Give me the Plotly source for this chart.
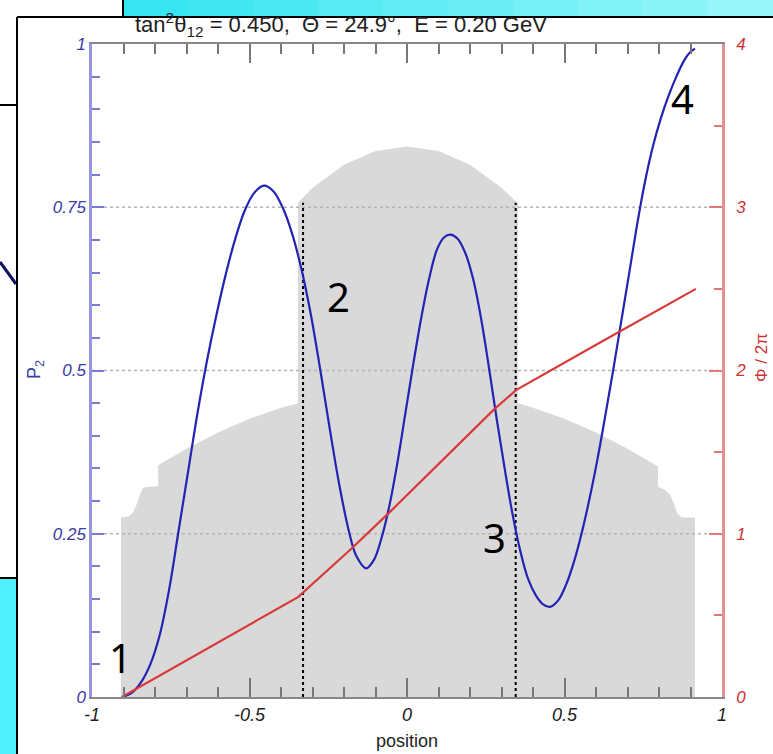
import plotly.graph_objects as go

# ---------------- data ----------------
# density profile (gray silhouette), position vs. scaled height on the P2 axis
gray_x = [-0.908, -0.908, -0.885, -0.870, -0.858, -0.848, -0.838, -0.790, -0.790,
          -0.700, -0.600, -0.500, -0.400, -0.346, -0.346, -0.300, -0.200, -0.100,
          0.000, 0.100, 0.200, 0.300, 0.352, 0.352, 0.400, 0.500, 0.600, 0.700,
          0.797, 0.797, 0.815, 0.835, 0.848, 0.858, 0.872, 0.914, 0.914]
gray_y = [0.000, 0.275, 0.276, 0.282, 0.295, 0.310, 0.321, 0.323, 0.355,
          0.380, 0.405, 0.426, 0.443, 0.450, 0.757, 0.780, 0.815, 0.836,
          0.843, 0.836, 0.815, 0.780, 0.756, 0.450, 0.443, 0.426, 0.405, 0.380,
          0.353, 0.322, 0.318, 0.310, 0.295, 0.281, 0.275, 0.275, 0.000]

# P2 (blue, left axis)
p2_x = [-0.905, -0.875, -0.845, -0.815, -0.785, -0.755, -0.725, -0.695, -0.665,
        -0.635, -0.605, -0.575, -0.545, -0.515, -0.485, -0.454,
        -0.425, -0.395, -0.365, -0.335, -0.305, -0.275, -0.245, -0.215, -0.185,
        -0.160, -0.130,
        -0.105, -0.080, -0.055, -0.030, -0.005, 0.020, 0.045, 0.070, 0.095,
        0.118, 0.138,
        0.160, 0.185, 0.210, 0.235, 0.260, 0.285, 0.310, 0.335, 0.360, 0.385,
        0.410, 0.432, 0.454,
        0.480, 0.505, 0.530, 0.555, 0.580, 0.605, 0.630, 0.655, 0.680, 0.705,
        0.730, 0.755, 0.780, 0.805, 0.830, 0.855, 0.880, 0.900, 0.914]
p2_y = [0.000, 0.006, 0.022, 0.050, 0.095, 0.165, 0.255, 0.345, 0.435,
        0.515, 0.585, 0.648, 0.702, 0.745, 0.772, 0.783,
        0.775, 0.750, 0.710, 0.655, 0.585, 0.500, 0.410, 0.325, 0.255,
        0.215, 0.197,
        0.210, 0.245, 0.295, 0.360, 0.435, 0.510, 0.580, 0.640, 0.685,
        0.704, 0.708,
        0.702, 0.680, 0.640, 0.580, 0.505, 0.425, 0.350, 0.280, 0.223, 0.180,
        0.155, 0.142, 0.138,
        0.148, 0.172, 0.207, 0.252, 0.305, 0.365, 0.432, 0.502, 0.575, 0.648,
        0.722, 0.788, 0.842, 0.885, 0.920, 0.950, 0.975, 0.988, 0.993]

# Phi / 2pi (red, right axis)
phi_x = [-0.905, -0.620, -0.346, -0.176, -0.054, 0.274, 0.346, 0.630, 0.917]
phi_y = [0.000, 0.312, 0.612, 0.910, 1.134, 1.757, 1.880, 2.190, 2.500]

# dotted vertical markers
marker_x = [-0.330, 0.345]
marker_top = 0.757

# numbered labels
label_text = ["1", "2", "3", "4"]
label_x = [-0.908, -0.216, 0.279, 0.876]
label_y = [0.061, 0.613, 0.245, 0.917]

grid_levels = [0.25, 0.5, 0.75]

# ---------------- layout geometry ----------------
W, H = 773, 754
L, R, T, B = 92, 51, 44, 57
PW, PH = W - L - R, H - T - B


def px(xp):
    return (xp - L) / PW


def py(yp):
    return (H - B - yp) / PH


FONT = "Liberation Sans"
BLUE = "#2323b4"
RED = "#d83a3a"

fig = go.Figure()

fig.add_trace(go.Scatter(x=gray_x, y=gray_y, mode="lines", fill="toself",
                         fillcolor="#d9d9d9", line=dict(width=0, color="#d9d9d9"),
                         hoverinfo="skip", showlegend=False))

gx, gy = [], []
for g in grid_levels:
    gx += [-1, 1, None]
    gy += [g, g, None]
fig.add_trace(go.Scatter(x=gx, y=gy, mode="lines",
                         line=dict(color="#b4b4b4", width=1.5, dash="dot"),
                         hoverinfo="skip", showlegend=False))

vx, vy = [], []
for m in marker_x:
    vx += [m, m, None]
    vy += [0, marker_top, None]
fig.add_trace(go.Scatter(x=vx, y=vy, mode="lines",
                         line=dict(color="black", width=2, dash="dot"),
                         hoverinfo="skip", showlegend=False))

fig.add_trace(go.Scatter(x=phi_x, y=phi_y, mode="lines", yaxis="y2",
                         line=dict(color=RED, width=2.2),
                         showlegend=False))

fig.add_trace(go.Scatter(x=p2_x, y=p2_y, mode="lines",
                         line=dict(color=BLUE, width=2.2, shape="spline", smoothing=1.0),
                         showlegend=False))

for t, x, y in zip(label_text, label_x, label_y):
    fig.add_annotation(x=x, y=y, xref="x", yref="y", text=t, showarrow=False,
                       xanchor="center", yanchor="middle",
                       font=dict(family="Noto Sans", size=40, color="black"))

# title and axis titles
NB = "\u00a0"
fig.add_annotation(x=px(341), y=py(25), xref="paper", yref="paper",
                   text="tan<sup>2</sup>θ<sub>12</sub> = 0.450," + NB * 2 + "Θ = 24.9°," + NB * 2 + "E = 0.20 GeV",
                   showarrow=False, xanchor="center", yanchor="middle",
                   font=dict(family=FONT, size=22, color="#222222"))
fig.add_annotation(x=0.5, y=py(741), xref="paper", yref="paper", text="position",
                   showarrow=False, xanchor="center", yanchor="middle",
                   font=dict(family=FONT, size=18, color="#222222"))
fig.add_annotation(x=px(35), y=py(370), xref="paper", yref="paper", text="P<sub>2</sub>",
                   textangle=-90, showarrow=False, xanchor="center", yanchor="middle",
                   font=dict(family=FONT, size=18, color="#3a3aa8"))
fig.add_annotation(x=px(761), y=py(358), xref="paper", yref="paper", text="Φ / 2π",
                   textangle=-90, showarrow=False, xanchor="center", yanchor="middle",
                   font=dict(family=FONT, size=17, color="#cc3333"))

# slide decoration around the chart
shapes = []
n = 10
for i in range(n):
    x0 = 123 + (773 - 123) * i / n
    x1 = 123 + (773 - 123) * (i + 1) / n
    c0 = (0x38, 0xe4, 0xf0)
    c1 = (0x96, 0xf6, 0xfa)
    f = i / (n - 1)
    col = "rgb(%d,%d,%d)" % tuple(int(a + (b - a) * f) for a, b in zip(c0, c1))
    shapes.append(dict(type="rect", xref="paper", yref="paper", x0=px(x0), x1=px(x1),
                       y0=py(16), y1=py(0), fillcolor=col, line=dict(width=0)))
shapes.append(dict(type="rect", xref="paper", yref="paper", x0=px(0), x1=px(16),
                   y0=py(754), y1=py(578), fillcolor="#4ef0fb", line=dict(width=0)))
for (x0, y0, x1, y1, c, w) in [
    (17, 17, 17, 754, "black", 2), (17, 17, 773, 17, "black", 2),
    (123, 0, 123, 17, "black", 2), (0, 105, 17, 105, "black", 2),
    (0, 578, 17, 578, "black", 2), (0, 262, 16, 284, "#101060", 3)]:
    shapes.append(dict(type="line", xref="paper", yref="paper", x0=px(x0), x1=px(x1),
                       y0=py(y0), y1=py(y1), line=dict(color=c, width=w)))

fig.update_layout(
    width=W, height=H, margin=dict(l=L, r=R, t=T, b=B),
    paper_bgcolor="white", plot_bgcolor="white",
    showlegend=False, shapes=shapes,
    xaxis=dict(range=[-1, 1], tickmode="linear", tick0=0, dtick=0.5,
               labelalias={"\u22121": "-1", "\u22120.5": "-0.5"},
               ticks="inside", ticklen=19, tickwidth=1.5, tickcolor="#777777",
               minor=dict(ticks="inside", dtick=0.1, tick0=0, ticklen=10, tickwidth=1.5,
                          tickcolor="#777777", showgrid=False),
               showline=True, linecolor="#888888", linewidth=2, mirror="ticks",
               showgrid=False, zeroline=False,
               tickfont=dict(family=FONT, size=18, style="italic", color="#222222")),
    yaxis=dict(range=[0, 1], tickmode="linear", tick0=0, dtick=0.25,
               ticks="inside", ticklen=12, tickwidth=2, tickcolor="#7a7ad6",
               minor=dict(ticks="inside", dtick=0.05, tick0=0, ticklen=8, tickwidth=1.5,
                          tickcolor="#7a7ad6", showgrid=False),
               showline=True, linecolor="#9494e2", linewidth=2.5,
               showgrid=False, zeroline=False,
               tickfont=dict(family=FONT, size=17, style="italic", color="#3a3aa8")),
    yaxis2=dict(range=[0, 4], overlaying="y", side="right", tickmode="linear",
                tick0=0, dtick=1, ticks="inside", ticklen=13, tickwidth=2,
                tickcolor="#e07a7a",
                minor=dict(ticks="inside", dtick=0.5, tick0=0, ticklen=8, tickwidth=1.5,
                           tickcolor="#e07a7a", showgrid=False),
                showline=True, linecolor="#e89090", linewidth=2.5,
                showgrid=False, zeroline=False, ticklabelstandoff=8,
                tickfont=dict(family=FONT, size=17, style="italic", color="#cc3333")),
)

fig.write_html("out.html")
